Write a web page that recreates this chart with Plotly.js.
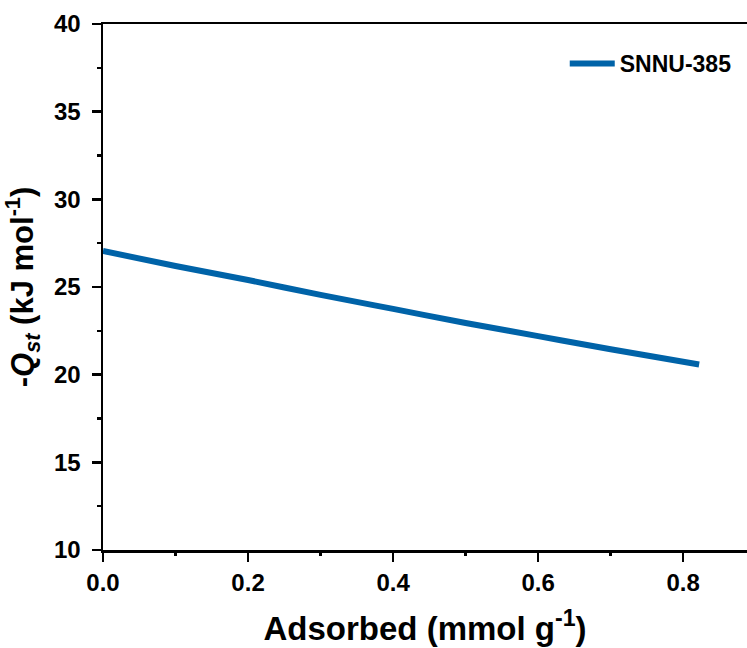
<!DOCTYPE html>
<html>
<head>
<meta charset="utf-8">
<script src="https://cdn.plot.ly/plotly-3.0.1.min.js"></script>
<style>html,body{margin:0;padding:0;background:#fff;}#chart{width:747px;height:648px;}</style>
</head>
<body>
<div id="chart"></div>
<script>
const adsorbed = [0.0, 0.1, 0.2, 0.3, 0.4, 0.5, 0.6, 0.7, 0.822];
const qst = [27.05, 26.2, 25.4, 24.55, 23.75, 22.95, 22.2, 21.45, 20.58];
const seriesName = 'SNNU-385';
const yTicks = [10, 15, 20, 25, 30, 35, 40];
const yMinor = [12.5, 17.5, 22.5, 27.5, 32.5, 37.5];
const xTicks = [0.0, 0.2, 0.4, 0.6, 0.8];
const xMinor = [0.1, 0.3, 0.5, 0.7];

const font = 'Liberation Sans, Arial, sans-serif';
const trace = {
  x: adsorbed, y: qst, name: seriesName, type: 'scatter', mode: 'lines',
  line: {color: '#0063A8', width: 6, shape: 'spline'}
};
const layout = {
  width: 747, height: 648,
  margin: {l: 103, r: 0, t: 24, b: 98},
  paper_bgcolor: '#fff', plot_bgcolor: '#fff',
  font: {family: font, color: '#000'},
  showlegend: true,
  legend: {x: 0.717, y: 0.925, xanchor: 'left', yanchor: 'middle', bgcolor: 'rgba(0,0,0,0)',
    itemwidth: 45,
    font: {family: font, size: 23, color: '#000', weight: 'bold'}},
  xaxis: {
    range: [0, 0.888], tickmode: 'array', tickvals: xTicks, ticktext: xTicks.map(v => v.toFixed(1)),
    ticks: 'outside', ticklen: 9, tickwidth: 2.5, tickcolor: '#000',
    showline: true, linewidth: 2.5, linecolor: '#000', mirror: true,
    showgrid: false, zeroline: false, ticklabelstandoff: 1,
    tickfont: {family: 'Liberation Sans', size: 24, color: '#000', weight: 700},
    title: {text: 'Adsorbed (mmol g<sup>-1</sup>)', standoff: 22,
      font: {family: font, size: 33, color: '#000', weight: 'bold'}}
  },
  xaxis2: {
    overlaying: 'x', anchor: 'y', side: 'bottom', matches: 'x', range: [0, 0.888],
    tickmode: 'array', tickvals: xMinor, showticklabels: false,
    ticks: 'outside', ticklen: 5, tickwidth: 2.5, tickcolor: '#000',
    showline: false, showgrid: false, zeroline: false
  },
  yaxis: {
    range: [10, 40], tickmode: 'array', tickvals: yTicks,
    ticks: 'outside', ticklen: 9, tickwidth: 2.5, tickcolor: '#000',
    showline: true, linewidth: 2.5, linecolor: '#000',
    showgrid: false, zeroline: false, ticklabelstandoff: 6,
    tickfont: {family: 'Liberation Sans', size: 24, color: '#000', weight: 700},
    title: {text: '-<i>Q</i><sub><i>st</i></sub> (kJ mol<sup>-1</sup>)', standoff: 12,
      font: {family: font, size: 31, color: '#000', weight: 'bold'}}
  },
  yaxis2: {
    overlaying: 'y', anchor: 'x', side: 'left', matches: 'y', range: [10, 40],
    tickmode: 'array', tickvals: yMinor, showticklabels: false,
    ticks: 'outside', ticklen: 5, tickwidth: 2.5, tickcolor: '#000',
    showline: false, showgrid: false, zeroline: false
  }
};
const ghost = {x: [], y: [], xaxis: 'x2', yaxis: 'y2', type: 'scatter', showlegend: false, hoverinfo: 'skip'};
Plotly.newPlot('chart', [trace, ghost], layout, {displayModeBar: false, staticPlot: true});
</script>
</body>
</html>
